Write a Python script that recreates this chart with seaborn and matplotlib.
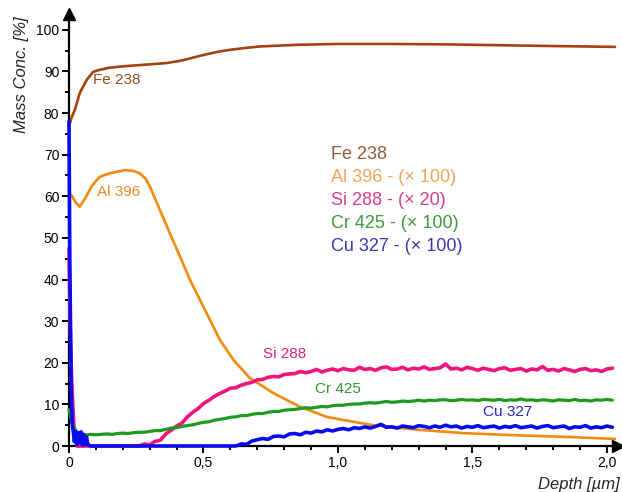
import numpy as np
import pandas as pd
import matplotlib
matplotlib.use("Agg")
import matplotlib.pyplot as plt
import seaborn as sns

# ---------------- data ----------------
# Fe 238 (smooth)
depth_fe = [0, 0.01, 0.022, 0.04, 0.066, 0.09, 0.115, 0.15, 0.214, 0.3, 0.36, 0.4,
            0.43, 0.46, 0.49, 0.524, 0.56, 0.6, 0.65, 0.71, 0.78, 0.85, 1.0, 1.08,
            1.2, 1.4, 1.6, 1.8, 2.03]
fe = [76.8, 79.0, 80.8, 84.8, 88.0, 89.9, 90.4, 90.9, 91.3, 91.7, 92.0, 92.4,
      92.8, 93.3, 93.8, 94.3, 94.8, 95.2, 95.6, 96.0, 96.2, 96.4, 96.6, 96.6,
      96.6, 96.5, 96.3, 96.1, 95.9]

# Al 396 - (x 100) (smooth)
depth_al = [0, 0.01, 0.025, 0.04, 0.06, 0.085, 0.115, 0.15, 0.18, 0.208, 0.24, 0.264,
            0.285, 0.301, 0.338, 0.375, 0.413, 0.45, 0.487, 0.524, 0.561, 0.611,
            0.673, 0.76, 0.859, 0.958, 1.007, 1.13, 1.3, 1.465, 1.65, 1.84, 2.03]
al = [60.8, 60.2, 58.5, 57.5, 59.5, 62.5, 64.7, 65.5, 65.9, 66.3, 66.1, 65.5,
      64.2, 62.3, 56.7, 51.1, 45.5, 39.9, 35.1, 30.3, 25.5, 20.7,
      16.3, 12.7, 9.4, 7.0, 6.4, 5.0, 3.9, 3.1, 2.6, 2.2, 1.7]

# Si 288 - (x 20): surface part, then readings every 0.02 um from 0.26 um
depth_si_surface = [0, 0.004, 0.01, 0.018, 0.03]
si_surface = [47.5, 30.0, 15.5, 5.0, 0.0]
si_start, si_step = 0.26, 0.02
si = [0.0, 0.5, 0.3, 1.1, 1.4, 2.9, 3.8, 4.8, 5.5, 7.0, 8.1, 9.0, 10.2, 11.0, 11.9,
      12.6, 13.2, 13.9, 14.0, 14.6, 15.0, 15.3, 15.9, 16.0, 16.5, 16.7, 16.6, 17.2,
      17.3, 17.4, 17.9, 17.6, 17.9, 18.4, 17.8, 18.2, 18.5, 18.1, 18.6, 18.3, 18.2,
      18.9, 18.4, 18.6, 18.2, 18.8, 19.0, 18.4, 18.5, 18.9, 18.3, 18.7, 18.5, 19.0,
      18.4, 18.6, 18.8, 19.7, 18.5, 18.7, 18.3, 18.9, 18.6, 18.2, 18.7, 18.4, 18.1,
      18.6, 18.8, 18.2, 18.4, 18.6, 18.0, 18.5, 18.3, 19.1, 18.2, 18.4, 18.0, 18.6,
      18.3, 17.9, 18.4, 18.6, 18.1, 18.3, 17.9, 18.5, 18.7]

# Cr 425 - (x 100): surface part, then readings every 0.02 um from 0.06 um
depth_cr_surface = [0, 0.01, 0.02, 0.035, 0.05]
cr_surface = [8.7, 6.0, 4.2, 3.0, 2.7]
cr_start, cr_step = 0.06, 0.02
cr = [2.6, 2.8, 2.7, 2.8, 2.9, 2.8, 3.0, 3.1, 3.0, 3.2, 3.3, 3.3, 3.5, 3.7, 3.7,
      4.0, 4.3, 4.4, 4.7, 4.9, 5.1, 5.4, 5.7, 5.8, 6.2, 6.4, 6.6, 6.9, 7.0, 7.3,
      7.3, 7.6, 7.8, 7.8, 8.1, 8.3, 8.3, 8.6, 8.7, 8.8, 9.0, 9.2, 9.1, 9.3, 9.5,
      9.4, 9.7, 9.8, 9.8, 10.0, 10.1, 10.1, 10.3, 10.4, 10.3, 10.5, 10.7, 10.5,
      10.6, 10.8, 10.7, 10.8, 11.0, 10.8, 11.0, 10.9, 11.1, 11.1, 10.9, 11.0, 11.2,
      11.0, 11.1, 10.9, 11.2, 11.1, 11.0, 11.2, 10.9, 11.1, 11.0, 11.3, 11.0, 11.1,
      10.9, 11.1, 11.0, 10.8, 11.1, 11.0, 10.9, 11.2, 10.9, 11.0, 10.8, 11.1, 11.0,
      11.2, 11.0]

# Cu 327 - (x 100): surface part, then readings every 0.02 um from 0.62 um
depth_cu_surface = [0, 0.003, 0.008, 0.012, 0.016, 0.02, 0.025, 0.03, 0.035, 0.04,
                    0.045, 0.05, 0.055, 0.06, 0.065, 0.07, 0.08]
cu_surface = [78.0, 45.0, 14.0, 5.0, 3.4, 1.0, 3.5, 0.3, 3.2, 0.8, 3.4, 0.2, 2.8,
              0.3, 2.2, 0.4, 0.0]
cu_start, cu_step = 0.62, 0.02
cu = [0.0, 0.5, 0.4, 1.2, 1.5, 1.8, 1.6, 2.3, 2.4, 2.2, 2.9, 3.0, 2.7, 3.3, 3.1,
      3.6, 3.4, 3.9, 3.6, 4.0, 4.2, 3.9, 4.4, 4.2, 4.6, 4.3, 4.7, 5.2, 4.5, 4.6,
      4.3, 4.8, 4.6, 4.4, 4.9, 4.7, 4.4, 4.8, 4.5, 5.0, 4.6, 4.8, 4.3, 4.7, 4.5,
      4.9, 4.4, 4.6, 4.8, 4.3, 4.7, 4.5, 4.9, 4.4, 4.6, 4.8, 4.3, 4.7, 4.9, 4.4,
      4.6, 4.8, 4.2, 4.6, 4.5, 4.9, 4.3, 4.6, 4.4, 4.8, 4.5]

xticks = [0, 0.5, 1.0, 1.5, 2.0]
xtick_labels = ["0", "0,5", "1,0", "1,5", "2,0"]
yticks = [0, 10, 20, 30, 40, 50, 60, 70, 80, 90, 100]
legend_labels = ["Fe 238", "Al 396 - (\u00d7 100)", "Si 288 - (\u00d7 20)",
                 "Cr 425 - (\u00d7 100)", "Cu 327 - (\u00d7 100)"]
curve_labels = ["Fe 238", "Al 396", "Si 288", "Cr 425", "Cu 327"]


def grid(start, step, values):
    n = len(values)
    return list(np.round(start + step * np.arange(n), 4))


depth_si = depth_si_surface + grid(si_start, si_step, si)
si_all = si_surface + si
depth_cr = depth_cr_surface + grid(cr_start, cr_step, cr)
cr_all = cr_surface + cr
depth_cu = depth_cu_surface + grid(cu_start, cu_step, cu)
cu_all = cu_surface + cu

# ---------------- style ----------------
sns.set_style("ticks")
plt.rcParams["font.family"] = ["Liberation Sans", "DejaVu Sans"]

line_colors = ["#A3410F", "#F28A0C", "#F0147C", "#1E9A1E", "#0A0AF0"]
label_colors = ["#9A4A1E", "#EE8A20", "#E0207E", "#2E962E", "#2424C8"]
legend_colors = ["#8E5A3E", "#F2A45A", "#D83C8C", "#3E9A3E", "#3A3AAE"]

fig = plt.figure(figsize=(6.22, 4.92), dpi=100)
ax = fig.add_axes([69 / 622, 46 / 492, (618 - 69) / 622, (446 - 14) / 492])

series = [
    (depth_al, al, line_colors[1], 1.9),
    (depth_fe, fe, line_colors[0], 1.9),
    (depth_si, si_all, line_colors[2], 2.6),
    (depth_cr, cr_all, line_colors[3], 2.3),
    (depth_cu, cu_all, line_colors[4], 2.6),
]
for i, (x, y, c, lw) in enumerate(series):
    df = pd.DataFrame({"depth": x, "conc": y})
    sns.lineplot(data=df, x="depth", y="conc", ax=ax, color=c, linewidth=lw,
                 estimator=None, sort=False, zorder=3 + i)
for l in ax.lines:
    l.set_clip_on(False)

ax.set_xlim(0, 2.041)
ax.set_ylim(0, 103.8)
ax.set_xlabel("")
ax.set_ylabel("")

for s in ["top", "right"]:
    ax.spines[s].set_visible(False)
for s in ["left", "bottom"]:
    ax.spines[s].set_linewidth(1.6)
    ax.spines[s].set_color("black")
    ax.spines[s].set_zorder(2)

ax.set_xticks(xticks)
ax.set_xticklabels(xtick_labels)
ax.set_xticks(np.round(np.arange(0, 2.05, 0.1), 2), minor=True)
ax.set_yticks(yticks)
ax.set_yticklabels([str(v) for v in yticks])
ax.set_yticks(np.arange(5, 101, 5), minor=True)
ax.tick_params(which="major", direction="out", length=5, width=1.4,
               labelsize=10, colors="black", pad=2)
ax.tick_params(which="minor", direction="out", length=3, width=1.4, colors="black")

# axis arrows
ax.plot([1.0], [0], marker=">", color="black", markersize=8,
        transform=ax.transAxes, clip_on=False, zorder=10)
ax.plot([0], [1.0], marker="^", color="black", markersize=8,
        transform=ax.transAxes, clip_on=False, zorder=10)

# curve labels
curve_pos = [(0.089, 88.0), (0.104, 61.1), (0.721, 22.1), (0.914, 13.7), (1.539, 8.2)]
for (x, y), t, c in zip(curve_pos, curve_labels, label_colors):
    ax.text(x, y, t, color=c, fontsize=11, ha="left", va="center", zorder=20)

# legend-like text block
leg_y = [70.0, 64.5, 59.0, 53.5, 48.0]
for y, t, c in zip(leg_y, legend_labels, legend_colors):
    ax.text(0.975, y, t, color=c, fontsize=13, ha="left", va="center", zorder=20)

fig.text(22 / 622, 1 - 75 / 492, "Mass Conc. [%]", rotation=90, fontsize=12,
         fontstyle="italic", ha="center", va="center")
fig.text(620 / 622, 1 - 484 / 492, "Depth [\u00b5m]", fontsize=12,
         fontstyle="italic", ha="right", va="center")

fig.savefig("out.png", dpi=100)
